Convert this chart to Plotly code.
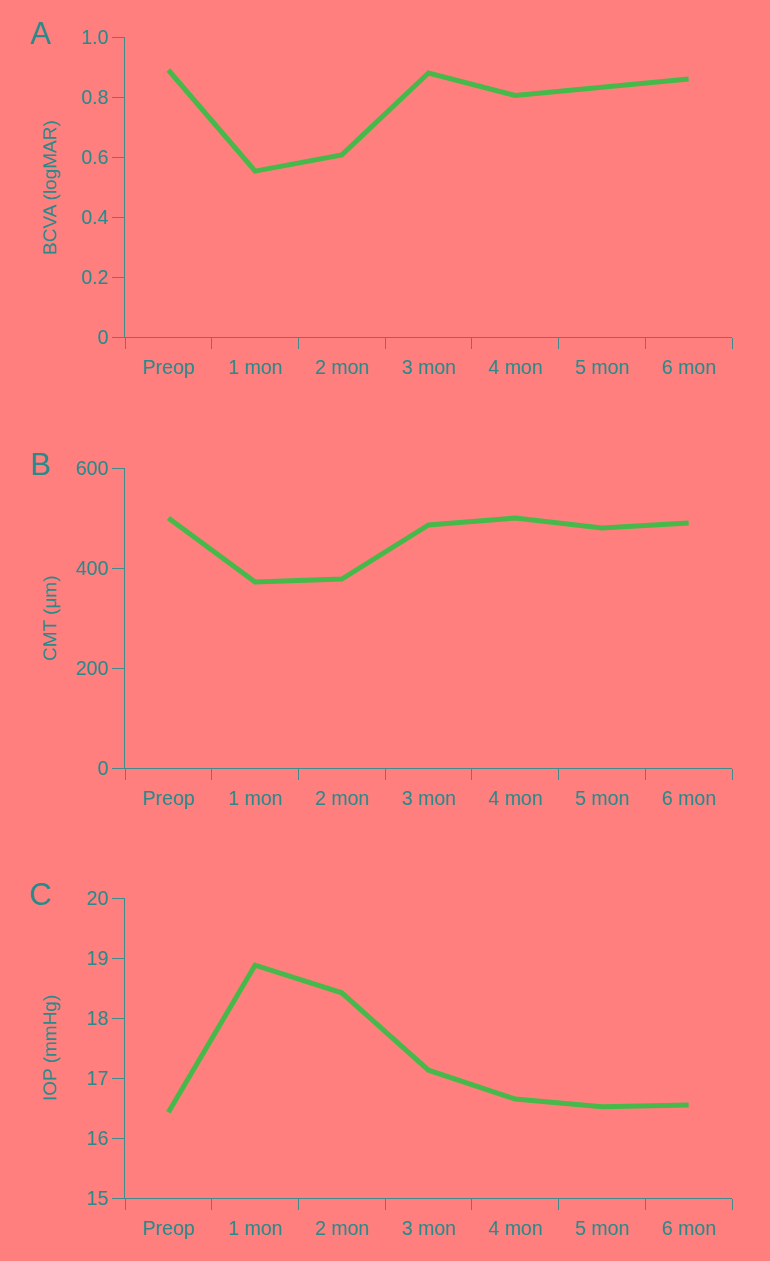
import plotly.graph_objects as go

# time points
months = ["Preop", "1 mon", "2 mon", "3 mon", "4 mon", "5 mon", "6 mon"]

# A: best-corrected visual acuity
bcva = [0.89, 0.553, 0.607, 0.88, 0.805, 0.832, 0.86]
# B: central macular thickness
cmt = [500, 372, 378, 486, 500, 480, 490]
# C: intraocular pressure
iop = [16.43, 18.88, 18.42, 17.13, 16.65, 16.52, 16.55]

bcva_ticks = [0, 0.2, 0.4, 0.6, 0.8, 1.0]
bcva_ticktext = ["0", "0.2", "0.4", "0.6", "0.8", "1.0"]
cmt_ticks = [0, 200, 400, 600]
iop_ticks = [15, 16, 17, 18, 19, 20]

BG = "#FF7F7F"
TEAL = "#2A8A8A"
AXIS = "#3F8C8C"
GREEN = "#47B94A"
H = 1261

fig = go.Figure()
series = [bcva, cmt, iop]
for i, s in enumerate(series):
    fig.add_trace(go.Scatter(x=months, y=s, mode="lines",
                             line=dict(color=GREEN, width=5),
                             xaxis="x" if i == 0 else f"x{i+1}",
                             yaxis="y" if i == 0 else f"y{i+1}",
                             showlegend=False, hoverinfo="skip"))

# panel pixel positions (top, bottom)
panels = [(37, 337), (468, 768), (898, 1198)]
titles = ["BCVA (logMAR)", "CMT (μm)", "IOP (mmHg)"]
ranges = [[0, 1], [0, 600], [15, 20]]
tickvals = [bcva_ticks, cmt_ticks, iop_ticks]
ticktexts = [bcva_ticktext, [str(v) for v in cmt_ticks], [str(v) for v in iop_ticks]]
letters = ["A", "B", "C"]

layout = dict(
    width=770, height=H,
    paper_bgcolor=BG, plot_bgcolor=BG,
    margin=dict(l=0, r=0, t=0, b=0),
    font=dict(family="Liberation Sans, Arial", color=TEAL, size=19),
    annotations=[],
)
for i, (top, bot) in enumerate(panels):
    xk = "xaxis" if i == 0 else f"xaxis{i+1}"
    yk = "yaxis" if i == 0 else f"yaxis{i+1}"
    ya = "y" if i == 0 else f"y{i+1}"
    xa = "x" if i == 0 else f"x{i+1}"
    layout[xk] = dict(
        domain=[125 / 770, 732 / 770], anchor=ya, automargin=False,
        type="category", range=[-0.5, 6.5],
        tickson="boundaries", ticks="outside", ticklen=11,
        tickcolor=AXIS, tickwidth=1.2, ticklabelstandoff=12,
        showline=True, linecolor=AXIS, linewidth=1.2,
        showgrid=False, zeroline=False,
        tickfont=dict(size=19.5, color=TEAL),
    )
    layout[yk] = dict(
        domain=[1 - bot / H, 1 - top / H], anchor=xa, automargin=False,
        range=ranges[i], tickmode="array",
        tickvals=tickvals[i], ticktext=ticktexts[i],
        ticks="outside", ticklen=12, tickcolor=AXIS, tickwidth=1.2,
        showline=True, linecolor=AXIS, linewidth=1.2,
        showgrid=False, zeroline=False,
        tickfont=dict(size=19.5, color=TEAL),
    )
    # y-axis title as rotated text, same x for every panel
    layout["annotations"].append(dict(
        text=titles[i], xref="paper", yref="paper", textangle=-90,
        x=49 / 770, y=1 - (top + bot) / 2 / H, xanchor="center", yanchor="middle",
        showarrow=False, font=dict(size=19, color=TEAL),
    ))
    layout["annotations"].append(dict(
        text=letters[i], xref="paper", yref="paper",
        x=40 / 770, y=1 - (top - 4) / H, xanchor="center", yanchor="middle",
        showarrow=False, font=dict(size=31, color=TEAL),
    ))

fig.update_layout(**layout)
fig.write_html("out.html", config={"displayModeBar": False},
               post_script="document.body.style.margin='0';document.body.style.background='%s';" % BG)
